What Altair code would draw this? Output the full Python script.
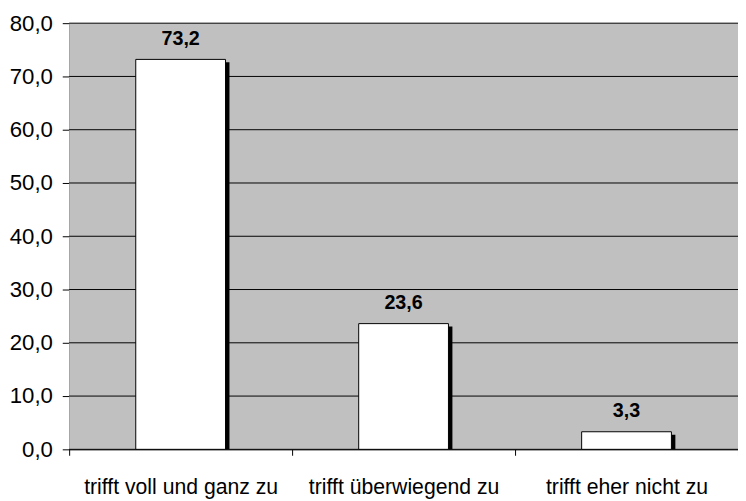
import altair as alt
import pandas as pd

categories = ["trifft voll und ganz zu", "trifft überwiegend zu", "trifft eher nicht zu"]
values = [73.2, 23.6, 3.3]
value_labels = ["73,2", "23,6", "3,3"]
y_ticks = [0, 10, 20, 30, 40, 50, 60, 70, 80]

df = pd.DataFrame({"cat": categories, "val": values, "label": value_labels})
grid_df = pd.DataFrame({"val": y_ticks})

FONT = "Liberation Sans"
W, H = 678, 432

x = alt.X(
    "cat:N",
    sort=categories,
    scale=alt.Scale(paddingInner=0, paddingOuter=0),
    axis=alt.Axis(
        title=None, labelAngle=0, tickBand="extent", labelFontSize=21.5,
        labelPadding=22, tickSize=6, domainColor="black", tickColor="black",
        labelColor="black", grid=False, labelFont=FONT, labelLimit=0,
    ),
)
y = alt.Y(
    "val:Q",
    scale=alt.Scale(domain=[0, 80], nice=False),
    axis=alt.Axis(
        title=None, values=y_ticks, labelExpr="replace(format(datum.value,'.1f'),'.',',')",
        labelFontSize=22.5, labelFont=FONT, labelColor="black", tickSize=7,
        tickColor="black", domainColor="black", grid=False, labelPadding=10,
    ),
)

bg = alt.Chart(pd.DataFrame({"a": [0]})).mark_rect(color="#C0C0C0").encode(
    x=alt.value(0), x2=alt.value(W), y=alt.value(0), y2=alt.value(H)
)
grid = alt.Chart(grid_df).mark_rule(color="black", strokeWidth=1).encode(y=y)
shadow = alt.Chart(df).mark_bar(color="black", size=91, xOffset=4, yOffset=3, clip=True).encode(x=x, y=y)
bars = alt.Chart(df).mark_bar(fill="white", stroke="black", strokeWidth=1, size=91).encode(x=x, y=y)
text = alt.Chart(df).mark_text(
    dy=-21, fontSize=20, fontWeight="bold", font=FONT, color="black", baseline="middle"
).encode(x=x, y=y, text="label:N")

chart = (
    alt.layer(bg, grid, shadow, bars, text)
    .properties(width=W, height=H, autosize=alt.AutoSizeParams(type="none"),
                padding={"left": 62, "top": 12, "right": 0, "bottom": 50})
    .configure_view(fill="#C0C0C0", strokeWidth=0)
    .configure(background="white")
)

chart.save("out.html", embed_options={"renderer": "svg", "actions": False})
